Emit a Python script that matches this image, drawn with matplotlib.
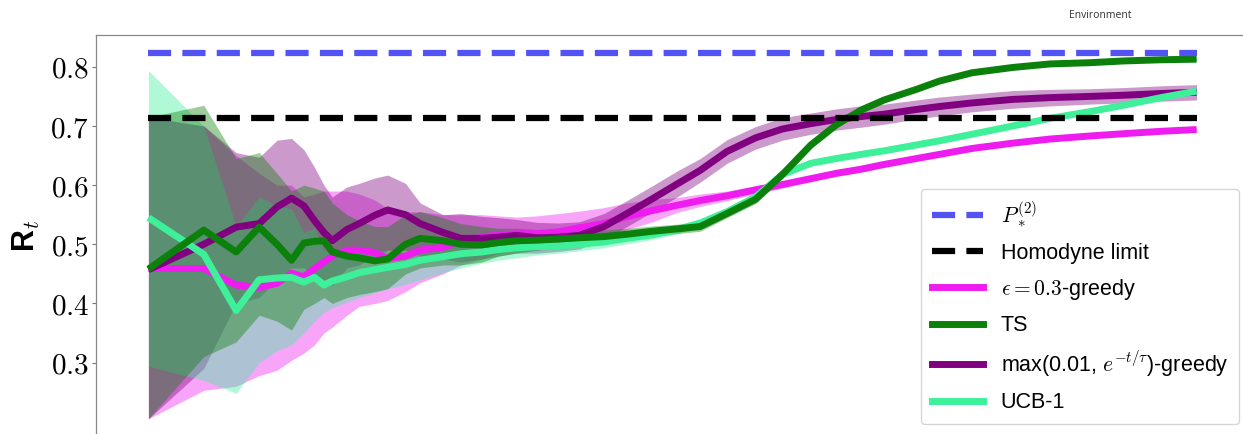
import matplotlib
matplotlib.use('Agg')
import matplotlib.pyplot as plt
from matplotlib.lines import Line2D
from matplotlib.ticker import FixedLocator, FuncFormatter

plt.rcParams['mathtext.fontset'] = 'cm'

# time steps (log axis)
t = [1, 2, 3, 4, 5, 6, 7, 8, 9, 10, 12, 14, 17, 20, 25, 30, 40, 50, 65, 80,
     100, 130, 170, 220, 300, 400, 550, 750, 1000, 1400, 2000, 2800, 4000,
     5500, 7500, 10000, 15000, 20000, 30000, 50000, 80000, 130000, 200000,
     320000, 500000]

# epsilon = 0.3 greedy
eps_mean = [0.459, 0.459, 0.431, 0.427, 0.434, 0.451, 0.445, 0.459, 0.470, 0.480,
            0.490, 0.490, 0.486, 0.476, 0.480, 0.490, 0.495, 0.505, 0.512, 0.516,
            0.518, 0.518, 0.521, 0.528, 0.535, 0.547, 0.557, 0.566, 0.574, 0.582,
            0.592, 0.601, 0.611, 0.620, 0.627, 0.635, 0.645, 0.652, 0.662, 0.671,
            0.678, 0.683, 0.687, 0.691, 0.694]
eps_lo = [0.205, 0.253, 0.260, 0.278, 0.287, 0.304, 0.316, 0.330, 0.350, 0.360,
          0.380, 0.395, 0.400, 0.405, 0.420, 0.435, 0.450, 0.465, 0.475, 0.485,
          0.490, 0.490, 0.493, 0.500, 0.510, 0.525, 0.538, 0.554, 0.564, 0.574,
          0.585, 0.595, 0.606, 0.615, 0.622, 0.630, 0.641, 0.648, 0.658, 0.667,
          0.675, 0.680, 0.684, 0.688, 0.691]
eps_hi = [0.715, 0.700, 0.650, 0.620, 0.600, 0.600, 0.580, 0.585, 0.590, 0.590,
          0.590, 0.585, 0.575, 0.560, 0.555, 0.555, 0.550, 0.550, 0.550, 0.548,
          0.546, 0.548, 0.552, 0.556, 0.562, 0.570, 0.576, 0.579, 0.585, 0.590,
          0.599, 0.607, 0.616, 0.625, 0.632, 0.640, 0.649, 0.656, 0.666, 0.675,
          0.681, 0.686, 0.690, 0.694, 0.697]

# Thompson sampling
ts_mean = [0.458, 0.524, 0.487, 0.529, 0.500, 0.473, 0.502, 0.505, 0.506, 0.487,
           0.480, 0.477, 0.472, 0.475, 0.500, 0.510, 0.506, 0.500, 0.499, 0.503,
           0.506, 0.507, 0.509, 0.511, 0.513, 0.517, 0.522, 0.526, 0.530, 0.552,
           0.576, 0.618, 0.668, 0.702, 0.727, 0.744, 0.762, 0.776, 0.790, 0.799,
           0.805, 0.807, 0.810, 0.812, 0.813]
ts_lo = [0.205, 0.310, 0.335, 0.380, 0.370, 0.355, 0.390, 0.400, 0.410, 0.400,
         0.410, 0.415, 0.420, 0.425, 0.450, 0.460, 0.465, 0.465, 0.470, 0.480,
         0.485, 0.490, 0.495, 0.498, 0.502, 0.507, 0.513, 0.518, 0.522, 0.545,
         0.569, 0.611, 0.662, 0.697, 0.722, 0.740, 0.759, 0.773, 0.787, 0.797,
         0.803, 0.805, 0.808, 0.810, 0.811]
ts_hi = [0.715, 0.735, 0.645, 0.655, 0.620, 0.590, 0.600, 0.595, 0.590, 0.570,
         0.550, 0.540, 0.530, 0.530, 0.550, 0.555, 0.545, 0.535, 0.530, 0.527,
         0.527, 0.525, 0.524, 0.525, 0.524, 0.527, 0.531, 0.534, 0.538, 0.559,
         0.583, 0.625, 0.674, 0.707, 0.732, 0.748, 0.765, 0.779, 0.793, 0.801,
         0.807, 0.809, 0.812, 0.814, 0.815]

# max(0.01, exp(-t/tau)) greedy
pur_mean = [0.457, 0.500, 0.529, 0.535, 0.563, 0.578, 0.565, 0.540, 0.520, 0.506,
            0.525, 0.535, 0.549, 0.558, 0.550, 0.535, 0.520, 0.510, 0.510, 0.512,
            0.515, 0.511, 0.512, 0.515, 0.530, 0.552, 0.577, 0.602, 0.625, 0.657,
            0.680, 0.695, 0.704, 0.711, 0.716, 0.720, 0.728, 0.733, 0.739, 0.745,
            0.748, 0.750, 0.752, 0.755, 0.757]
pur_lo = [0.205, 0.290, 0.400, 0.410, 0.440, 0.460, 0.460, 0.450, 0.440, 0.430,
          0.460, 0.465, 0.480, 0.490, 0.490, 0.480, 0.475, 0.470, 0.475, 0.480,
          0.485, 0.485, 0.488, 0.492, 0.508, 0.530, 0.555, 0.580, 0.605, 0.637,
          0.661, 0.676, 0.686, 0.693, 0.698, 0.703, 0.712, 0.717, 0.724, 0.730,
          0.734, 0.737, 0.739, 0.742, 0.744]
pur_hi = [0.715, 0.700, 0.655, 0.647, 0.676, 0.679, 0.660, 0.630, 0.600, 0.580,
          0.597, 0.603, 0.612, 0.617, 0.603, 0.570, 0.550, 0.552, 0.547, 0.545,
          0.542, 0.537, 0.536, 0.538, 0.552, 0.574, 0.599, 0.624, 0.645, 0.677,
          0.699, 0.714, 0.722, 0.729, 0.734, 0.737, 0.744, 0.749, 0.754, 0.760,
          0.762, 0.763, 0.765, 0.768, 0.770]

# UCB-1
ucb_mean = [0.545, 0.483, 0.388, 0.440, 0.443, 0.444, 0.436, 0.444, 0.431, 0.438,
            0.445, 0.452, 0.457, 0.461, 0.466, 0.473, 0.479, 0.484, 0.487, 0.491,
            0.494, 0.496, 0.497, 0.500, 0.504, 0.510, 0.516, 0.525, 0.536, 0.555,
            0.580, 0.618, 0.637, 0.645, 0.652, 0.658, 0.668, 0.675, 0.686, 0.700,
            0.713, 0.724, 0.735, 0.748, 0.759]
ucb_lo = [0.294, 0.270, 0.248, 0.300, 0.320, 0.330, 0.350, 0.370, 0.385, 0.393,
          0.402, 0.410, 0.418, 0.425, 0.432, 0.440, 0.452, 0.460, 0.468, 0.473,
          0.477, 0.482, 0.485, 0.489, 0.494, 0.501, 0.508, 0.518, 0.530, 0.550,
          0.575, 0.614, 0.633, 0.641, 0.648, 0.655, 0.665, 0.672, 0.683, 0.697,
          0.710, 0.721, 0.732, 0.745, 0.756]
ucb_hi = [0.794, 0.700, 0.530, 0.580, 0.565, 0.560, 0.520, 0.528, 0.490, 0.486,
          0.490, 0.494, 0.490, 0.488, 0.487, 0.493, 0.496, 0.501, 0.503, 0.506,
          0.510, 0.510, 0.509, 0.511, 0.514, 0.519, 0.524, 0.532, 0.542, 0.560,
          0.585, 0.622, 0.641, 0.649, 0.656, 0.661, 0.671, 0.678, 0.689, 0.703,
          0.716, 0.727, 0.738, 0.751, 0.762]

p_star = 0.823
homodyne = 0.714

c_pstar = '#5252f5'
c_eps = '#ee1cee'
c_ts = '#0b800b'
c_pur = '#800080'
c_ucb = '#3ef09a'

fig = plt.figure(figsize=(12.43, 4.34), dpi=100)
ax = fig.add_axes([96/1243, -3/434, 1153/1243, 402/434])
ax.set_xscale('log')

series = [(eps_mean, eps_lo, eps_hi, c_eps),
          (pur_mean, pur_lo, pur_hi, c_pur),
          (ucb_mean, ucb_lo, ucb_hi, c_ucb),
          (ts_mean, ts_lo, ts_hi, c_ts)]

for mean, lo, hi, c in series:
    ax.fill_between(t, lo, hi, color=c, alpha=0.4, lw=0)
for mean, lo, hi, c in series:
    ax.plot(t, mean, color=c, lw=5, solid_capstyle='butt')

ax.plot([t[0], t[-1]], [p_star, p_star], color=c_pstar, lw=4.5,
        dashes=(3.7, 1.8))
ax.plot([t[0], t[-1]], [homodyne, homodyne], color='black', lw=4.5,
        dashes=(3.7, 1.8))

ax.yaxis.set_major_locator(FixedLocator([0.3, 0.4, 0.5, 0.6, 0.7, 0.8]))
ax.yaxis.set_major_formatter(FuncFormatter(lambda v, p: '$%.1f$' % v))
ax.tick_params(axis='y', labelsize=21, length=3, width=0.8, pad=2,
               color='#777777')
# x tick labels sit below the visible area
ax.tick_params(axis='x', which='both', labelbottom=False)
ax.set_ylabel(r'R$_t$', fontsize=22, fontweight='bold',
              family='Liberation Sans', labelpad=6)

for s in ax.spines.values():
    s.set_color('#888888')
    s.set_linewidth(0.9)

handles = [
    Line2D([], [], color=c_pstar, lw=4.5, dashes=(3.7, 1.8)),
    Line2D([], [], color='black', lw=4.5, dashes=(3.7, 1.8)),
    Line2D([], [], color=c_eps, lw=5),
    Line2D([], [], color=c_ts, lw=5),
    Line2D([], [], color=c_pur, lw=5),
    Line2D([], [], color=c_ucb, lw=5),
]
labels = [r'$P_*^{(2)}$', 'Homodyne limit', r'$\epsilon = 0.3$-greedy', 'TS',
          r'max(0.01, $e^{-t/\tau}$)-greedy', 'UCB-1']
ax.legend(handles, labels, loc='lower right',
          bbox_to_anchor=(1239/1243, 10/434), bbox_transform=fig.transFigure,
          borderaxespad=0, handlelength=2.4, labelspacing=0.62,
          borderpad=0.5, prop={'family': 'Liberation Sans', 'size': 15.5})

fig.text(1100/1243, 1 - 15/434, 'Environment', ha='center', va='center',
         fontsize=7.5, color='#333333', family='Open Sans')

fig.savefig('out.png', dpi=100)
